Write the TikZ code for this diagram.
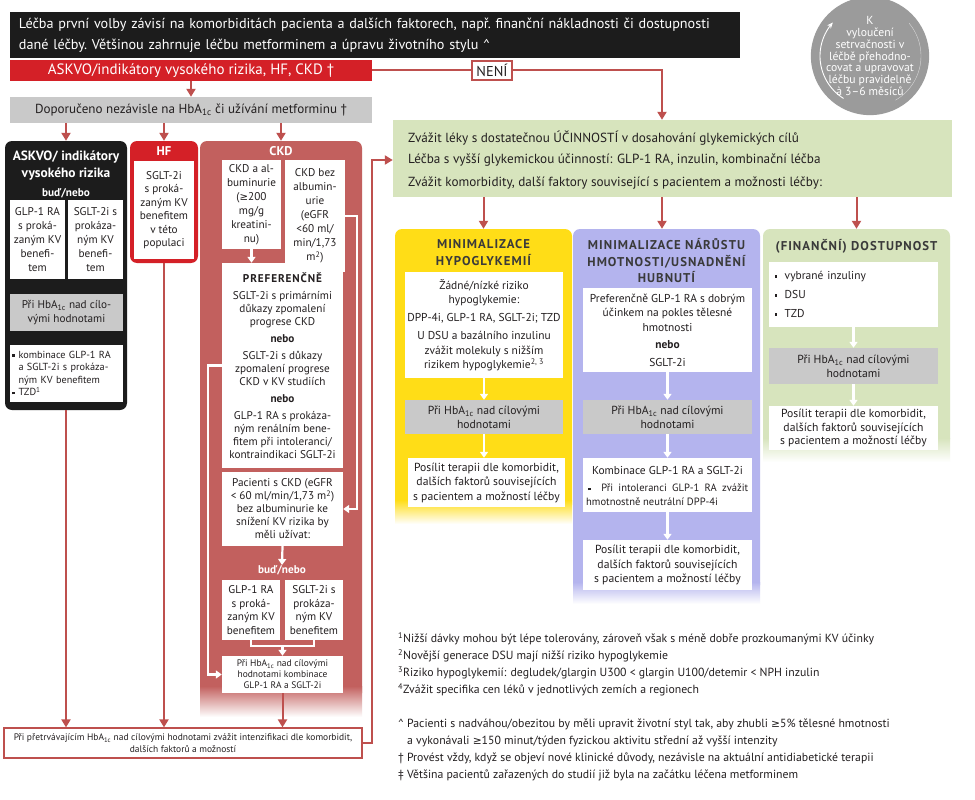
\documentclass[tikz,border=0pt]{standalone}
\usepackage{fontspec}
\setmainfont{PT Sans}[Scale=1.1]
\newfontfamily\ttlf{PT Sans}[Scale=1.1,LetterSpace=8]
\newfontfamily\symf{DejaVu Sans}
\usetikzlibrary{arrows.meta}
\definecolor{ctext}{HTML}{231F20}
\definecolor{ctitle}{HTML}{3A3A3A}
\definecolor{cblack}{HTML}{1C1C1C}
\definecolor{cred}{HTML}{D42027}
\definecolor{cmut}{HTML}{BE504E}
\definecolor{cckd}{HTML}{C2605E}
\definecolor{cgrayb}{HTML}{C9C9C9}
\definecolor{cgreen}{HTML}{D7E4BD}
\definecolor{cyel}{HTML}{FFDD17}
\definecolor{cpur}{HTML}{B4B4EE}
\definecolor{ccirc}{HTML}{9B9B9B}
\newcommand\fs[2]{\fontsize{#1}{#2}\selectfont}
\newcommand\hba{HbA\textsubscript{1c}}
\newcommand\sq{\rule[0.3ex]{2.6pt}{2.6pt}}
\newcommand\gesym{{\symf ≥}}
\newcommand\bx[7]{%
 \pgfmathsetmacro\bxw{#5-#3}\pgfmathsetmacro\bxh{#6-#4}%
 \pgfmathsetmacro\bxx{(#3+#5)/2}\pgfmathsetmacro\bxy{(#4+#6)/2}%
 \node[#2,minimum width=\bxw pt,minimum height=\bxh pt] (#1) at (\bxx,\bxy) {#7};}
\tikzset{
 col/.style={inner sep=0, rounded corners=7pt},
 wbox/.style={fill=white, inner sep=0, align=center, text=ctext},
 gbox/.style={fill=cgrayb, inner sep=0, align=center, text=ctext},
 ttl/.style={inner sep=0, align=center},
 txt/.style={inner sep=0, text=ctext},
 conn/.style={draw=cmut, line width=2pt},
 arr/.style={conn, -{Triangle[length=8pt,width=9pt]}},
 warr/.style={draw=white, line width=2.2pt, -{Triangle[length=6pt,width=8pt]}},
}
\begin{document}
\begin{tikzpicture}[x=1pt,y=-1pt]
\useasboundingbox[fill=white] (0,0) rectangle (975,800);
% ---------- top
\bx{top}{fill=cblack,text=white,inner sep=0,text width=712pt,align=left,font=\fs{12.9}{21}}{10}{12}{740}{58}{\frenchspacing\hbox to 703pt{Léčba první volby závisí na komorbiditách pacienta a dalších faktorech, např. finanční nákladnosti či dostupnosti}\\dané léčby. Většinou zahrnuje léčbu metforminem a úpravu životního stylu \textasciicircum}
\bx{askbar}{fill=cred,text=white,inner sep=0,font=\fs{13.6}{16}}{10}{60}{372}{81}{ASKVO/indikátory vysokého rizika, HF, CKD †}
\bx{nen}{fill=white,draw=cmut,line width=1.5pt,inner sep=0,text=ctext,font=\fs{13}{16}}{472}{61}{512}{80}{NENÍ}
\bx{dop}{gbox,font=\fs{11.9}{15}}{10}{97}{372}{123}{Doporučeno nezávisle na \hba{} či užívání metforminu †}
% ---------- circle
\node[circle,fill=ccirc,inner sep=0,minimum size=112pt,text=white,align=center,font=\fs{10.6}{11.8}] (circ) at (870,56) {K\\vyloučení\\setrvačnosti v\\léčbě přehodno-\\covat a upravovat\\léčbu pravidelně\\à 3–6 měsíců};
\draw[white,line width=0.9pt,-{Stealth[length=6pt,width=5pt]}] plot[domain=122:222,samples=40,smooth] ({870+50*cos(\x)},{56+50*sin(\x)});
\draw[white,line width=0.4pt,opacity=0.6] plot[domain=-40:60,samples=30,smooth] ({870+51*cos(\x)},{56+51*sin(\x)});
% ---------- ASKVO column
\bx{askvo}{fill=cblack,col}{5}{141}{127}{410}{}
\node[ttl,text=white,font=\bfseries\fs{12.2}{17}] (askt) at (66,166) {ASKVO/ indikátory\\vysokého rizika};
\node[ttl,text=white,font=\bfseries\fs{10.2}{13}] (askbn) at (66,193) {buď/nebo};
\bx{a1}{wbox,font=\fs{10.2}{14}}{10}{200}{65}{279}{GLP-1 RA\\s proká-\\zaným KV\\benefi-\\tem}
\bx{a2}{wbox,font=\fs{10.2}{14}}{68}{200}{123}{279}{SGLT-2i s\\prokáza-\\ným KV\\benefi-\\tem}
\bx{a3}{gbox,font=\fs{10.2}{14}}{10}{294}{123}{331}{Při \hba{} nad cílo-\\vými hodnotami}
\bx{a4}{wbox,align=left,text width=108pt,font=\fs{9.3}{12.5}}{10}{345}{123}{402}{\sq\ kombinace GLP-1 RA\\\phantom{\sq\ }a SGLT-2i s prokáza-\\\phantom{\sq\ }ným KV benefitem\\\sq\ TZD\textsuperscript{1}}
% ---------- HF column
\bx{hf}{fill=cred,col}{130}{141}{198}{263}{}
\node[ttl,text=white,font=\bfseries\fs{11.5}{14}] (hft) at (164,151) {HF};
\bx{h1}{wbox,font=\fs{10.2}{13.5}}{134}{161}{194}{259}{SGLT-2i\\s proká-\\zaným KV\\benefitem\\v této\\populaci}
% ---------- CKD column
\bx{ckd}{fill=cckd,col}{200}{141}{362}{700}{}
\shade[top color=cckd,bottom color=white] (200,686) rectangle (362,717);
\node[ttl,text=white,font=\bfseries\fs{11.5}{14}] (ckdt) at (281,151) {CKD};
\bx{k1}{wbox,font=\fs{10.2}{14}}{222}{160}{281}{249}{CKD a al-\\buminurie\\(\gesym200\\mg/g\\kreatini-\\nu)}
\bx{k2}{wbox,font=\fs{10.2}{14}}{285}{160}{345}{272}{CKD bez\\albumin-\\urie\\(eGFR\\<60 ml/\\min/1,73\\m\textsuperscript{2})}
\bx{k3}{wbox,font=\fs{10.2}{13}}{222}{263}{343}{468}{{\ttlf\bfseries PREFERENČNĚ}\\[4pt]SGLT-2i s primárními\\důkazy zpomalení\\progrese CKD\\[4pt]\textbf{nebo}\\[4pt]SGLT-2i s důkazy\\zpomalení progrese\\CKD v KV studiích\\[4pt]\textbf{nebo}\\[4pt]GLP-1 RA s prokáza-\\ným renálním bene-\\fitem při intoleranci/\\kontraindikaci SGLT-2i}
\bx{k4}{wbox,font=\fs{10.2}{13}}{222}{472}{343}{546}{Pacienti s CKD (eGFR\\< 60 ml/min/1,73 m\textsuperscript{2})\\bez albuminurie ke\\snížení KV rizika by\\měli užívat:}
\node[ttl,text=white,font=\bfseries\fs{10.2}{13}] (ckdbn) at (282,570) {buď/nebo};
\bx{k5}{wbox,font=\fs{10.2}{13.5}}{222}{580}{280}{640}{GLP-1 RA\\s proká-\\zaným KV\\benefitem}
\bx{k6}{wbox,font=\fs{10.2}{13.5}}{285}{580}{343}{640}{SGLT-2i s\\prokáza-\\ným KV\\benefitem}
\bx{k7}{wbox,font=\fs{8.6}{11}}{222}{656}{343}{693}{Při \hba{} nad cílovými\\hodnotami kombinace\\GLP-1 RA a SGLT-2i}
\coordinate (kr) at (357,0);
\coordinate (kl) at (208,0);
\coordinate (kb) at (0,646);
\draw[warr] (k1.south) -- (k1.south |- k3.north);
\draw[warr] (k2.east) -- (k2.east -| kr) -- (kr |- k4.east) -- (k4.east);
\draw[warr] (k3.west) -- (k3.west -| kl) -- (kl |- k7.west) -- (k7.west);
\draw[warr] (k4.south) -- (ckdbn.north);
\draw[white,line width=1.5pt] (k5.south) -- (k5.south |- kb) -- (k6.south |- kb) -- (k6.south);
\draw[warr] (k7.north |- kb) -- (k7.north);
% ---------- bottom box
\bx{bottom}{fill=white,draw=cmut,line width=1.2pt,inner sep=0,align=center,text=ctext,font=\fs{8.6}{12}}{4}{728}{362}{758}{Při přetrvávajícím \hba{} nad cílovými hodnotami zvážit intenzifikaci dle komorbidit,\\dalších faktorů a možností}
% ---------- green top
\bx{green}{fill=cgreen,inner sep=0}{393}{120}{952}{197}{}
\node[txt,anchor=west,font=\fs{12}{14}] (gl1) at (408,138) {Zvážit léky s dostatečnou ÚČINNOSTÍ v dosahování glykemických cílů};
\node[txt,anchor=west,font=\fs{12}{14}] (gl2) at (408,160) {Léčba s vyšší glykemickou účinností: GLP-1 RA, inzulin, kombinační léčba};
\node[txt,anchor=west,font=\fs{12}{14}] (gl3) at (408,183) {Zvážit komorbidity, další faktory související s pacientem a možnosti léčby:};
% ---------- yellow column
\bx{yel}{fill=cyel,col}{395}{229}{572}{512}{}
\shade[top color=cyel,bottom color=white] (395,500) rectangle (572,524);
\node[ttl,text=ctitle,font=\ttlf\bfseries\fs{11.6}{17}] (yelt) at (483.5,253) {MINIMALIZACE\\HYPOGLYKEMIÍ};
\bx{y1}{wbox,font=\fs{10.4}{14.2}}{405}{272}{563}{378}{Žádné/nízké riziko\\hypoglykemie:\\[4pt]DPP-4i, GLP-1 RA, SGLT-2i; TZD\\[4pt]U DSU a bazálního inzulinu\\zvážit molekuly s nižším\\rizikem hypoglykemie\textsuperscript{2, 3}}
\bx{y2}{gbox,font=\fs{10.6}{14}}{405}{400}{563}{434}{Při \hba{} nad cílovými\\hodnotami}
\bx{y3}{wbox,font=\fs{10.6}{14.5}}{408}{458}{565}{507}{Posílit terapii dle komorbidit,\\dalších faktorů souvisejících\\s pacientem a možností léčby}
\draw[warr] (y1.south) -- (y2.north);
\draw[warr] (y2.south) -- (y2.south |- y3.north);
% ---------- purple column
\bx{pur}{fill=cpur,col}{573}{229}{760}{592}{}
\shade[top color=cpur,bottom color=white] (573,582) rectangle (760,604);
\node[ttl,text=ctitle,font=\ttlf\bfseries\fs{11.6}{16.5}] (purt) at (666.5,261) {MINIMALIZACE NÁRŮSTU\\HMOTNOSTI/USNADNĚNÍ\\HUBNUTÍ};
\bx{p1}{wbox,font=\fs{10.4}{14.5}}{583}{288}{752}{372}{Preferenčně GLP-1 RA s dobrým\\účinkem na pokles tělesné\\hmotnosti\\[3pt]\textbf{nebo}\\[3pt]SGLT-2i}
\bx{p2}{gbox,font=\fs{10.6}{14}}{583}{400}{752}{434}{Při \hba{} nad cílovými\\hodnotami}
\bx{p3}{wbox}{583}{458}{752}{512}{}
\node[txt,font=\fs{10.4}{13}] (p3a) at (667.5,470) {Kombinace GLP-1 RA a SGLT-2i};
\node[txt,anchor=west,font=\fs{9.6}{13}] (p3b) at (588,488) {\hbox to 160pt{\sq\ \ Při intoleranci GLP-1 RA zvážit}};
\node[txt,anchor=west,font=\fs{9.6}{13}] (p3c) at (586,502) {hmotnostně neutrální DPP-4i};
\bx{p4}{wbox,font=\fs{10.6}{14.5}}{583}{540}{752}{590}{Posílit terapii dle komorbidit,\\dalších faktorů souvisejících\\s pacientem a možností léčby}
\draw[warr] (p1.south) -- (p2.north);
\draw[warr] (p2.south) -- (p3.north);
\draw[warr] (p3.south) -- (p4.north);
% ---------- financial column
\bx{fin}{fill=cgreen,col}{763}{229}{950}{446}{}
\shade[top color=cgreen,bottom color=white] (763,438) rectangle (950,462);
\node[ttl,text=ctitle,font=\ttlf\bfseries\fs{11.6}{15}] (fint) at (856.5,246) {(FINANČNÍ) DOSTUPNOST};
\bx{f1}{wbox,align=left,text width=158pt,font=\fs{10.4}{13}}{769}{262}{938}{327}{\sq\ \ vybrané inzuliny\\[6pt]\sq\ \ DSU\\[6pt]\sq\ \ TZD}
\bx{f2}{gbox,font=\fs{10.6}{14}}{769}{348}{938}{384}{Při \hba{} nad cílovými\\hodnotami}
\bx{f3}{wbox,font=\fs{10.6}{13.5}}{769}{406}{938}{450}{Posílit terapii dle komorbidit,\\dalších faktorů souvisejících\\s pacientem a možností léčby}
\draw[warr] (f1.south) -- (f2.north);
\draw[warr] (f2.south) -- (f3.north);
% ---------- footnotes
\node[txt,anchor=north west,align=left,font=\fs{10.7}{17}] (fn1) at (398,632) {\textsuperscript{1}Nižší dávky mohou být lépe tolerovány, zároveň však s méně dobře prozkoumanými KV účinky\\\textsuperscript{2}Novější generace DSU mají nižší riziko hypoglykemie\\\textsuperscript{3}Riziko hypoglykemií: degludek/glargin U300 < glargin U100/detemir < NPH inzulin\\\textsuperscript{4}Zvážit specifika cen léků v jednotlivých zemích a regionech};
\node[txt,anchor=north west,align=left,font=\fs{10.7}{17}] (fn2) at (398,719) {\textasciicircum\ Pacienti s nadváhou/obezitou by měli upravit životní styl tak, aby zhubli \gesym5\% tělesné hmotnosti\\\phantom{\textasciicircum\ }a vykonávali \gesym150 minut/týden fyzickou aktivitu střední až vyšší intenzity\\† Provést vždy, když se objeví nové klinické důvody, nezávisle na aktuální antidiabetické terapii\\‡ Většina pacientů zařazených do studií již byla na začátku léčena metforminem};
% ---------- connectors
\coordinate (nx) at (662,0);
\coordinate (rx) at (372,0);
\draw[conn] (askbar.east) -- (nen.west);
\draw[arr] (nen.east) -| (nx |- green.north);
\draw[arr] (askbar.south) -- (dop.north);
\draw[arr] (dop.south -| askvo.north) -- (askvo.north);
\draw[arr] (dop.south -| hf.north) -- (hf.north);
\draw[arr] (dop.south -| ckd.north) -- (ckd.north);
\draw[arr] (askvo.south) -- (askvo.south |- bottom.north);
\draw[arr] (hf.south) -- (hf.south |- bottom.north);
\draw[arr] (k7.south) -- (k7.south |- bottom.north);
\draw[arr] (bottom.east) -| (rx |- gl2) -- (gl2 -| green.west);
\draw[arr] (green.south -| yel.north) -- (yel.north);
\draw[arr] (green.south -| nx) -- (nx |- pur.north);
\draw[arr] (green.south -| fin.north) -- (fin.north);
\end{tikzpicture}
\end{document}
